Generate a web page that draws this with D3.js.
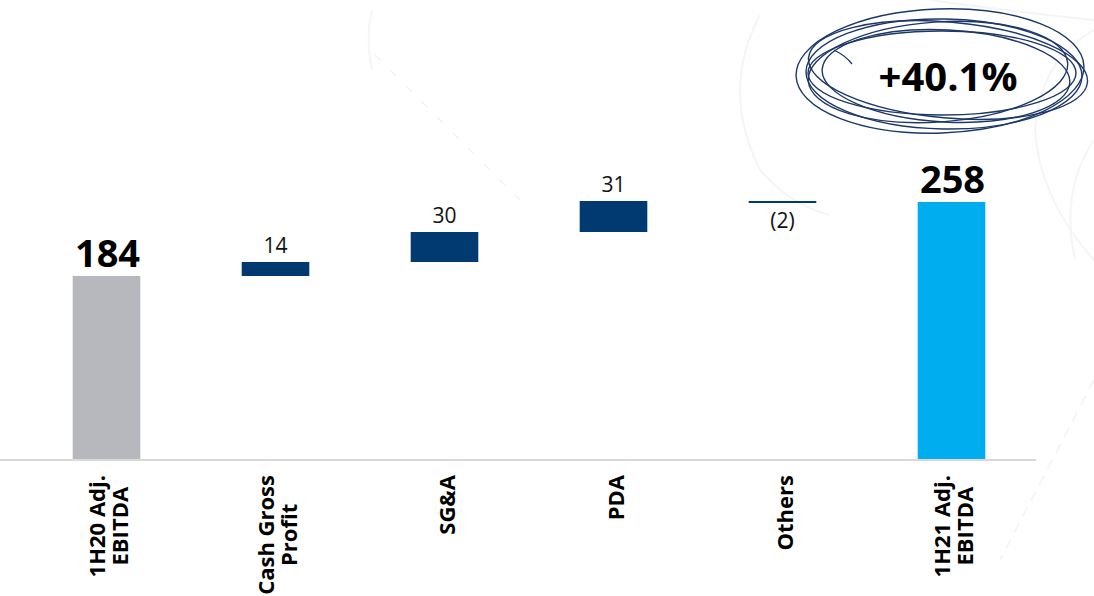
<!DOCTYPE html>
<html>
<head>
<meta charset="utf-8">
<script src="https://cdn.jsdelivr.net/npm/d3@7"></script>
<style>
  html, body { margin: 0; padding: 0; background: #ffffff; }
  svg { display: block; }
</style>
</head>
<body>
<svg id="chart" width="1094" height="596"></svg>
<script>
// Adjusted EBITDA bridge, 1H20 -> 1H21
const categories = ["1H20 Adj.|EBITDA", "Cash Gross|Profit", "SG&A", "PDA", "Others", "1H21 Adj.|EBITDA"];
const values = [184, 14, 30, 31, -2, 258];
const kinds = ["total", "delta", "delta", "delta", "delta", "total"];
const valueLabels = ["184", "14", "30", "31", "(2)", "258"];
const growthLabel = "+40.1%";

const W = 1094, H = 596;
const svg = d3.select("#chart");

// faint decorative background strokes
const bg = svg.append("g").attr("fill", "none").attr("stroke", "#f4f5f7").attr("stroke-width", 2);
bg.append("path").attr("d", "M372,10 Q365,40 372,70");
bg.append("path").attr("d", "M375,55 L520,200").attr("stroke-dasharray", "8 14");
bg.append("path").attr("d", "M760,15 Q720,90 760,170 Q790,205 830,215");
bg.append("path").attr("d", "M1094,30 Q1040,60 1035,130 Q1040,200 1094,260");
bg.append("path").attr("d", "M1094,140 Q1060,190 1075,260");
bg.append("path").attr("d", "M1094,380 L1000,560").attr("stroke-dasharray", "10 8");
bg.append("path").attr("d", "M1094,20 Q1000,10 930,0");

// cumulative start/end for each step
let running = 0;
const steps = values.map((v, i) => {
  let y0, y1;
  if (kinds[i] === "total") { y0 = 0; y1 = v; running = v; }
  else { y0 = running; y1 = running + v; running = y1; }
  return { cat: categories[i], value: v, kind: kinds[i], label: valueLabels[i], lo: Math.min(y0, y1), hi: Math.max(y0, y1), i };
});

const x = d3.scaleBand()
  .domain(categories)
  .range([22, 1036])
  .paddingInner(0.6)
  .paddingOuter(0.3);

const y = d3.scaleLinear()
  .domain([0, 460])
  .range([460, 0]);

const colorFor = (d, i) => {
  if (d.kind === "total") return i === 0 ? "#b7b8bd" : "#00adee";
  return "#003a70";
};

// bars
svg.append("g").selectAll("rect")
  .data(steps)
  .join("rect")
  .attr("x", d => x(d.cat))
  .attr("width", x.bandwidth())
  .attr("y", d => y(d.hi))
  .attr("height", d => Math.max(1.5, y(d.lo) - y(d.hi)))
  .attr("fill", (d, i) => colorFor(d, i));

// baseline axis
const axis = d3.axisBottom(x).tickSize(0).tickFormat("");
const axG = svg.append("g").attr("transform", `translate(0,${y(0)})`).call(axis);
axG.select(".domain").attr("stroke", "#d9d9d9").attr("stroke-width", 2)
  .attr("d", `M0,0H1036`);

// value labels
const labels = svg.append("g").attr("font-family", "'Open Sans', sans-serif").attr("text-anchor", "middle");
steps.forEach((d, i) => {
  const cx = x(d.cat) + x.bandwidth() / 2;
  if (d.kind === "total") {
    labels.append("text")
      .attr("x", cx + 1)
      .attr("y", y(d.hi) - 9)
      .attr("font-size", 38)
      .attr("font-weight", 700)
      .attr("fill", "#000")
      .text(d.label);
  } else if (d.value >= 0) {
    labels.append("text")
      .attr("x", cx)
      .attr("y", y(d.hi) - 9)
      .attr("font-size", 21)
      .attr("fill", "#111")
      .text(d.label);
  } else {
    labels.append("text")
      .attr("x", cx)
      .attr("y", y(d.lo) + 25)
      .attr("font-size", 21)
      .attr("fill", "#111")
      .text(d.label);
  }
});

// rotated category labels
const catG = svg.append("g")
  .attr("font-family", "'Open Sans', sans-serif")
  .attr("font-weight", 700)
  .attr("font-size", 22)
  .attr("fill", "#000");
const lineH = 22.5;
categories.forEach(c => {
  const lines = c.split("|");
  const cx = x(c) + x.bandwidth() / 2;
  const g = catG.append("g").attr("transform", `translate(${cx},475) rotate(-90)`);
  const texts = lines.map((ln, k) => g.append("text")
    .attr("text-anchor", "middle")
    .attr("y", 8 + 2 + (k - (lines.length - 1) / 2) * lineH)
    .text(ln));
  const maxW = d3.max(texts, t => t.node().getComputedTextLength());
  texts.forEach(t => t.attr("x", -maxW / 2));
});

// hand-drawn circle around the growth figure
const loops = [
  { cx: 940, cy: 71, rx: 144, ry: 62, rot: -2 },
  { cx: 944, cy: 74, rx: 138, ry: 55, rot: 1 },
  { cx: 938, cy: 72, rx: 130, ry: 50, rot: -4 },
  { cx: 946, cy: 76, rx: 124, ry: 46, rot: 3 },
  { cx: 942, cy: 73, rx: 134, ry: 42, rot: 0 },
  { cx: 948, cy: 70, rx: 140, ry: 48, rot: 5 }
];
svg.append("g")
  .attr("fill", "none")
  .attr("stroke", "#1c3768")
  .attr("stroke-width", 1.4)
  .selectAll("ellipse")
  .data(loops)
  .join("ellipse")
  .attr("cx", d => d.cx).attr("cy", d => d.cy)
  .attr("rx", d => d.rx).attr("ry", d => d.ry)
  .attr("transform", d => `rotate(${d.rot},${d.cx},${d.cy})`);
svg.append("path")
  .attr("d", "M834,50 Q846,56 852,64")
  .attr("fill", "none").attr("stroke", "#1c3768").attr("stroke-width", 1.3);

svg.append("text")
  .attr("x", 948)
  .attr("y", 91)
  .attr("text-anchor", "middle")
  .attr("font-family", "'Open Sans', sans-serif")
  .attr("font-weight", 700)
  .attr("font-size", 40)
  .attr("fill", "#000")
  .text(growthLabel);
</script>
</body>
</html>
